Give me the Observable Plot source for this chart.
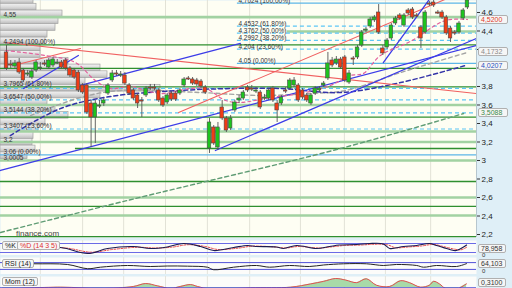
<!DOCTYPE html>
<html><head><meta charset="utf-8">
<script src="https://cdn.jsdelivr.net/npm/d3@7"></script>
<script src="https://cdn.jsdelivr.net/npm/@observablehq/plot@0.6"></script>
<style>
html,body{margin:0;padding:0;background:#e2f2f9;}
#wrap{position:relative;width:512px;height:288px;overflow:hidden;background:#dfeff7;font-family:"Liberation Sans",Arial,sans-serif;}
.box{position:absolute;box-sizing:border-box;font-size:7px;line-height:7px;height:9px;padding:0 2px;border:1px solid #b0b0b0;border-radius:2px;background:#f6f6f6;white-space:nowrap;}
.plain{position:absolute;white-space:nowrap;}
</style></head><body><div id="wrap"></div>
<script>
// ---------- candles (price) ----------
const cOpen = [4.168,4.038,4.016,4.059,3.973,3.941,3.897,3.973,4.005,4.049,
4.005,4.027,4.059,4.059,4.081,3.995,3.973,3.951,3.811,3.811,
3.616,3.465,3.595,3.616,3.724,3.865,3.941,3.930,3.919,3.811,
3.757,3.703,3.649,3.703,3.789,3.789,3.757,3.670,3.627,3.724,
3.724,3.724,3.811,3.887,3.876,3.865,3.854,3.789,3.130,3.357,
3.141,3.573,3.454,3.346,3.541,3.649,3.670,3.789,3.778,3.757,
3.735,3.681,3.670,3.778,3.616,3.616,3.757,3.778,3.811,3.811,
3.757,3.703,3.616,3.724,3.757,3.811,3.887,4.081,4.049,4.092,
4.114,3.843,4.103,4.114,4.243,4.416,4.449,4.514,4.600,4.211,
4.222,4.319,4.481,4.568,4.459,4.622,4.632,4.568,4.438,4.384,
4.697,4.708,4.600,4.600,4.546,4.427,4.384,4.384,4.535,4.654];
const cClose = [3.995,4.027,4.049,3.951,3.865,3.951,3.962,4.059,4.016,4.043,
4.081,4.092,4.070,4.005,3.995,3.919,3.897,3.757,3.735,3.519,
3.465,3.616,3.605,3.649,3.811,3.941,3.935,3.941,3.832,3.724,
3.670,3.616,3.643,3.778,3.784,3.778,3.649,3.595,3.703,3.659,
3.659,3.757,3.876,3.881,3.832,3.822,3.800,3.735,3.411,3.184,
3.357,3.454,3.324,3.454,3.627,3.670,3.735,3.757,3.773,3.762,
3.573,3.686,3.757,3.649,3.541,3.681,3.752,3.865,3.865,3.649,
3.681,3.649,3.703,3.778,3.778,3.832,4.049,4.027,4.092,4.005,
3.865,3.941,4.097,4.222,4.384,4.421,4.524,4.546,4.384,4.157,
4.297,4.459,4.535,4.535,4.568,4.589,4.546,4.563,4.319,4.600,
4.692,4.676,4.595,4.546,4.373,4.319,4.379,4.481,4.622,4.730];
const cHigh = [4.243,4.081,4.081,4.103,3.995,3.973,3.984,4.081,4.059,4.081,
4.103,4.114,4.092,4.081,4.103,4.016,3.995,3.973,3.832,3.832,
3.649,3.649,3.649,3.670,3.832,3.973,3.973,3.962,3.951,3.832,
3.778,3.724,3.681,3.800,3.822,3.822,3.778,3.692,3.724,3.746,
3.746,3.778,3.897,3.908,3.897,3.887,3.876,3.811,3.454,3.378,
3.411,3.649,3.476,3.486,3.649,3.703,3.757,3.811,3.811,3.789,
3.757,3.714,3.778,3.800,3.649,3.703,3.789,3.887,3.897,3.832,
3.778,3.724,3.724,3.800,3.800,3.854,4.168,4.114,4.124,4.114,
4.135,3.973,4.124,4.243,4.405,4.438,4.546,4.568,4.686,4.243,
4.319,4.481,4.557,4.589,4.589,4.643,4.654,4.589,4.459,4.622,
4.719,4.730,4.622,4.622,4.568,4.449,4.405,4.503,4.643,4.760];
const cLow = [3.973,3.995,3.995,3.930,3.843,3.908,3.876,3.951,3.973,4.016,
3.984,4.005,4.038,3.984,3.973,3.897,3.876,3.735,3.714,3.497,
3.141,3.184,3.562,3.584,3.703,3.843,3.908,3.897,3.811,3.703,
3.649,3.562,3.465,3.681,3.757,3.757,3.627,3.573,3.605,3.638,
3.638,3.703,3.789,3.865,3.811,3.800,3.778,3.714,3.076,3.162,
3.108,3.432,3.303,3.324,3.519,3.616,3.649,3.735,3.746,3.724,
3.551,3.649,3.649,3.627,3.411,3.595,3.724,3.757,3.789,3.627,
3.659,3.627,3.595,3.703,3.735,3.789,3.865,4.005,4.027,3.984,
3.843,3.822,4.027,4.092,4.222,4.384,4.427,4.492,4.362,4.135,
4.200,4.297,4.459,4.514,4.438,4.568,4.524,4.546,4.211,4.362,
4.665,4.654,4.578,4.524,4.351,4.276,4.351,4.362,4.514,4.632];

// ---------- horizontal levels ----------
const levels = [
 {v:4.7024,k:"lb",from:54.6},{v:4.55,k:"lg"},{v:4.4532,k:"db",from:54.6},
 {v:4.395,k:"lg",from:66.4},{v:4.3762,k:"db",from:54.6},{v:4.2992,k:"db",from:54.6},
 {v:4.2494,k:"dg"},{v:4.204,k:"db",from:54.6},{v:4.05,k:"lb",from:54.6},
 {v:3.995,k:"dg"},{v:3.7965,k:"dg"},{v:3.78,k:"db"},{v:3.6547,k:"db"},
 {v:3.6,k:"lg"},{v:3.5144,k:"db"},{v:3.468,k:"dg"},{v:3.3407,k:"db"},
 {v:3.314,k:"lg"},{v:3.2,k:"lg"},{v:3.13,k:"dg",from:16.3},{v:3.06,k:"lb"},
 {v:3.0005,k:"lg"},{v:2.773,k:"dg"},{v:2.6,k:"lg"},{v:2.503,k:"dg"},
 {v:2.405,k:"lg"},{v:2.178,k:"dg"}
];
const leftLabels = [
 {v:4.55,t:"4,55"},{v:4.2494,t:"4,2494 (100,00%)"},{v:3.7965,t:"3,7965 (61,80%)"},
 {v:3.6547,t:"3,6547 (50,00%)"},{v:3.5144,t:"3,5144 (38,20%)"},{v:3.3407,t:"3,3407 (23,60%)"},
 {v:3.2,t:"3,2"},{v:3.06,t:"3,06 (0,00%)"},{v:3.0005,t:"3,0005"}
];
const topLabels = [
 {v:4.7024,t:"4,7024 (100,00%)"},{v:4.4532,t:"4,4532 (61,80%)"},{v:4.3762,t:"4,3762 (50,00%)"},
 {v:4.2992,t:"4,2992 (38,20%)"},{v:4.204,t:"4,204 (23,60%)"},{v:4.05,t:"4,05 (0,00%)"}
];
const topLabelStart = 54.6;
const yTicks = [2.2,2.4,2.6,2.8,3,3.2,3.4,3.6,3.8,4,4.2,4.4,4.6];
const hiddenTickLabels = [4, 4.2];
const gridIdx = [8.0,18.0,27.7,37.6,47.5,57.5,69.5,79.9,89.6,100.3];

// ---------- volume profile ----------
const vpTop = 4.767, vpStep = 0.073;
const vpVolume = [33,36,62,58,55,47,45,40,40,68,100,107,85,160,100,47,55,68,45,38,33,32,35,27];

// ---------- trend lines [index, price] ----------
const blueA = [[-1.42,2.892],[111.1,4.243]];
const blueB = [[17.5,3.811],[55.3,4.265]];
const blueC = [[4.0,3.778],[17.0,4.135]];
const blueD = [[49.4,3.108],[111.1,4.319]];
const blueE = [[89.1,4.059],[101,4.805]];
const redG = [[-0.24,4.276],[111.1,3.724]];
const redH = [[1.66,4.027],[17.5,4.211]];
const redI = [[40.7,3.519],[106,4.786]];
// moving averages
const maGreen = [[-1.42,2.222],[28.6,2.568],[79,3.130],[108.1,3.508]];
const maGray = [[5.7,3.486],[17.5,3.681],[27,3.757],[45.9,3.735],[60.1,3.703],[71.9,3.724],[80.2,3.757],[93.2,3.951],[109,4.168]];
const maNavy = [[0.9,3.270],[12.8,3.562],[24.6,3.692],[41.1,3.757],[53,3.778],[64.8,3.778],[79,3.735],[93.2,3.843],[108.5,4.027]];
const maPink = [[-0.24,4.189],[9.2,4.135],[16.3,4.059],[21,3.865],[24.6,3.778],[29.3,3.800],[36.4,3.724],[43.5,3.778],[47.1,3.778],[51.8,3.649],[55.3,3.627],[62.4,3.681],[69.5,3.724],[76.6,3.811],[81.3,3.919],[84.4,3.941],[88.4,4.135],[95.5,4.287],[103.8,4.514],[109,4.524]];

// ---------- value boxes ----------
const priceBoxes = [{v:4.52,t:"4,5200",c:"#e03a2a"},{v:4.1732,t:"4,1732",c:"#8a8a8a"},{v:4.0207,t:"4,0207",c:"#2a4fc0"},{v:3.5088,t:"3,5088",c:"#3a8a4a"}];

// ---------- oscillators ----------
const stochKIdx = [-0.9,12.8,19.2,23.9,30,34,38,41.9,45.9,49,53.7,57,59,63.8,65.5,68.6,73.3,76.4,78.7,82.8,85.8,89.1,90.6,93.9,97,100,101.7,104.8,106.4,108.8];
const stochK = [60,53,13,47,60,47,57,80,60,33,53,67,60,57,47,67,47,60,70,73,80,77,47,60,67,80,67,40,33,70];
const stochDIdx = [-0.9,14,20,25,31,35,39,43,47,50,55,58,63,66,69,74,77,80,84,87,90,92,95,98,101,103,106,107.5,108.8];
const stochD = [58,50,22,40,55,50,55,72,60,40,50,62,58,50,60,50,58,67,70,75,72,52,57,63,74,62,42,38,55];
const rsiIdx = [-0.9,6.4,14.4,19.2,22.2,28.6,34,38,42.8,47.5,49,53.7,59.1,62.2,66.9,71.6,75,79.7,85.1,89.1,92.2,97,98.6,101.7,106.4,108.8];
const rsi = [66,63,59,34,43,53,47,50,49,43,28,43,53,43,53,47,56,63,63,53,59,53,43,53,47,64.1];
const momIdx = [-0.9,12.8,22.2,30,32.9,35.7,38.8,41.1,43.5,45.2,48.2,57.7,67.2,71.9,75,77.8,80.2,82.8,85.1,87.5,90.6,93.2,95.3,97.9,100,101,102.4,103.8,106.4,108.8];
const mom = [-0.1,0.05,-0.05,0.1,0.33,0.15,-0.05,0.1,0.25,0.1,-0.1,0,0.05,0.3,0.5,0.72,0.6,0.4,0.7,0.2,0.1,0.55,0.4,0.05,0.2,0.5,0.3,-0.05,-0.1,0.31];

// ================= build =================
const wrap = document.getElementById("wrap");
const W = 512, MR = 36;
const xDomain = [-1.42, 111.14];
const FONT = "Liberation Sans, Arial, sans-serif";
const candles = cOpen.map((o,i)=>({i,o,c:cClose[i],h:cHigh[i],l:cLow[i]}));
const toRows = (pts,id) => pts.map(([i,v])=>({i,v,id}));
const xMin = () => xDomain[0], xMax = () => xDomain[1];
const lvl = k => levels.filter(d=>d.k===k);
const fromX = d => d.from ?? xDomain[0];
const vpBins = vpVolume.map((vol,k)=>({vol, top:vpTop-k*vpStep, bot:vpTop-(k+1)*vpStep}));
const vpUnit = 1/4.229;
const trendBlue = [...toRows(blueA,"a"),...toRows(blueB,"b"),...toRows(blueC,"c"),...toRows(blueD,"d"),...toRows(blueE,"e")];
const trendRed = [...toRows(redG,"g"),...toRows(redH,"h"),...toRows(redI,"i")];
const body2 = d => Math.abs(d.c-d.o) < 0.012 ? d.o-0.012 : d.c;

const main = Plot.plot({
  width: W, height: 237, marginLeft: 0, marginRight: MR, marginTop: 0, marginBottom: 0,
  x: {domain: xDomain, axis: null},
  y: {domain: [2.1676, 4.7297], axis: null},
  color: {type: "identity"},
  style: {background: "transparent", fontFamily: FONT, overflow: "visible", position: "absolute", left: "0px", top: "0px"},
  marks: [
    Plot.frame({fill: "#fefef3"}),
    Plot.ruleX(gridIdx, {stroke: "#e2e2d6", strokeWidth: 1}),
    Plot.rect(vpBins, {x1: xMin, x2: d=>xDomain[0]+d.vol*vpUnit, y1: "bot", y2: "top", fill: "url(#vpg)", stroke: "#a2a2a2", strokeWidth: 0.7}),
    Plot.ruleY(lvl("lg"), {y: "v", x1: fromX, x2: xMax, stroke: "#a2d2a2", strokeWidth: 2.6}),
    Plot.ruleY(lvl("dg"), {y: "v", x1: fromX, x2: xMax, stroke: "#2f8f2f", strokeWidth: 1.3}),
    Plot.ruleY(lvl("lb"), {y: "v", x1: fromX, x2: xMax, stroke: "#5cb6e8", strokeWidth: 1.2}),
    Plot.ruleY(lvl("db"), {y: "v", x1: fromX, x2: xMax, stroke: "#5cc6f6", strokeWidth: 1.2, strokeDasharray: "4,3"}),
    Plot.line(maGreen.map(([i,v])=>({i,v})), {x: "i", y: "v", stroke: "#5f9c74", strokeWidth: 1.4, strokeDasharray: "4,3", curve: "catmull-rom", clip: true}),
    Plot.line(maGray.map(([i,v])=>({i,v})), {x: "i", y: "v", stroke: "#a4a4a4", strokeWidth: 1.4, strokeDasharray: "4,3", curve: "catmull-rom", clip: true}),
    Plot.line(maNavy.map(([i,v])=>({i,v})), {x: "i", y: "v", stroke: "#3434a8", strokeWidth: 1.5, strokeDasharray: "4,3", curve: "catmull-rom", clip: true}),
    Plot.line(trendRed, {x: "i", y: "v", z: "id", stroke: "#f06060", strokeWidth: 1.1, clip: true}),
    Plot.line(trendBlue, {x: "i", y: "v", z: "id", stroke: "#3c3ce8", strokeWidth: 1.3, clip: true}),
    Plot.line(maPink.map(([i,v])=>({i,v})), {x: "i", y: "v", stroke: "#e2609c", strokeWidth: 1.2, strokeDasharray: "3,3", curve: "catmull-rom", clip: true}),
    Plot.ruleX(candles, {x: "i", y1: "l", y2: "h", stroke: "#555", strokeWidth: 0.9, clip: true}),
    Plot.rect(candles, {x1: d=>d.i-0.42, x2: d=>d.i+0.42, y1: "o", y2: body2, fill: d=>d.c>=d.o?"#1ec41e":"#f03c16", stroke: "#4a4a4a", strokeWidth: 0.6, clip: true}),
    Plot.text(leftLabels, {x: xMin, y: "v", text: "t", dx: 3, textAnchor: "start", lineAnchor: "bottom", dy: -0.5, fontSize: 6.5, fill: "#333"}),
    Plot.text(topLabels, {x: () => topLabelStart, y: "v", text: "t", dx: 1, textAnchor: "start", lineAnchor: "bottom", dy: -0.5, fontSize: 6.5, fill: "#333", clip: true}),
    Plot.ruleX([xDomain[1]], {stroke: "#b6c6ce"}),
    Plot.axisY({anchor: "right", ticks: yTicks, tickFormat: d => hiddenTickLabels.includes(d) ? "" : String(d).replace(".", ","), tickSize: 3, tickPadding: 2, fontSize: 8, stroke: "#333", fill: "#222"})
  ]
});
const ns = "http://www.w3.org/2000/svg";
const defs = document.createElementNS(ns, "defs");
defs.innerHTML = '<linearGradient id="vpg" x1="0" y1="0" x2="0" y2="1"><stop offset="0" stop-color="#f3f3f3"/><stop offset="0.55" stop-color="#dadada"/><stop offset="1" stop-color="#bcbcbc"/></linearGradient>';
main.insertBefore(defs, main.firstChild);
wrap.append(main);

function box(text, left, top, color, extra) {
  const d = document.createElement("div");
  d.className = "box"; d.textContent = text;
  d.style.left = left + "px"; d.style.top = top + "px"; d.style.color = color;
  if (extra) Object.assign(d.style, extra);
  wrap.append(d); return d;
}
function plain(text, left, top, size, color) {
  const d = document.createElement("div");
  d.className = "plain"; d.textContent = text;
  d.style.left = left + "px"; d.style.top = top + "px"; d.style.fontSize = size + "px"; d.style.color = color;
  wrap.append(d);
}
const ys = main.scale("y");
priceBoxes.forEach(b => box(b.t, 478, ys.apply(b.v) - 4.5, b.c, {width: "30px"}));
plain("finance.com", 16, 229, 8, "#444");

// ---------- sub panels ----------
function panel(top, h, yDom, mt, marks) {
  const p = Plot.plot({
    width: W, height: h, marginLeft: 0, marginRight: MR, marginTop: mt, marginBottom: 0,
    x: {domain: xDomain, axis: null}, y: {domain: yDom, axis: null},
    color: {type: "identity"},
    style: {background: "transparent", fontFamily: FONT, overflow: "hidden", position: "absolute", left: "0px", top: top + "px"},
    marks: [Plot.frame({fill: "#fcfcfa"}), Plot.ruleX(gridIdx, {stroke: "#e4e4dc"}), ...marks]
  });
  wrap.append(p);
  return p;
}
const kRows = stochKIdx.map((i,k)=>({i, v: stochK[k]}));
const dRows = stochDIdx.map((i,k)=>({i, v: stochD[k]}));
panel(238, 17, [0,100], 2, [
  Plot.ruleY([80, 20], {stroke: "#6a6ae6", strokeWidth: 1}),
  Plot.line(dRows, {x: "i", y: "v", stroke: "#e84848", strokeWidth: 1, strokeDasharray: "2,1.5", curve: "catmull-rom", clip: true}),
  Plot.line(kRows, {x: "i", y: "v", stroke: "#1c1c50", strokeWidth: 1.1, curve: "catmull-rom", clip: true})
]);
const rRows = rsiIdx.map((i,k)=>({i, v: rsi[k]}));
panel(256, 18, [0,100], 1, [
  Plot.ruleY([70, 30], {stroke: "#5050d8", strokeWidth: 1}),
  Plot.line(rRows, {x: "i", y: "v", stroke: "#222", strokeWidth: 1, curve: "catmull-rom", clip: true})
]);
const mRows = momIdx.map((i,k)=>({i, v: mom[k]}));
panel(276, 12, [-0.054, 0.876], 0, [
  Plot.areaY(mRows, {x: "i", y: "v", fill: "#a8daa8", curve: "catmull-rom", clip: true}),
  Plot.line(mRows, {x: "i", y: "v", stroke: "#e05050", strokeWidth: 1, curve: "catmull-rom", clip: true}),
  Plot.ruleY([0], {stroke: "#4444d0", strokeWidth: 1})
]);

box("%K", 2, 241, "#222");
box("%D (14 3 5)", 17, 241, "#e03030");
box("RSI (14)", 2, 259, "#222");
box("Mom (12)", 2, 277, "#222");
box("78,958", 478, 244, "#333", {width: "28px"});
box("64,103", 478, 259, "#333", {width: "28px"});
box("0,3100", 478, 278, "#333", {width: "28px"});
plain("0", 482, 252, 6, "#333");
plain("0", 482, 268, 6, "#333");
</script></body></html>
